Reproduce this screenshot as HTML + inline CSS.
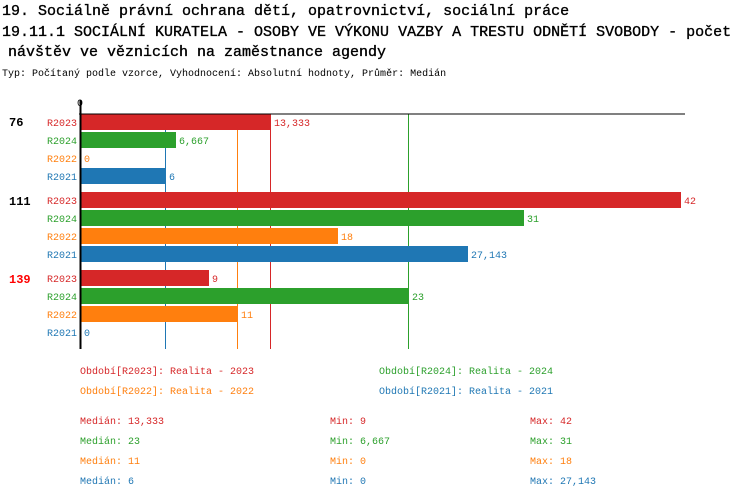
<!DOCTYPE html><html><head><meta charset="utf-8"><style>body{margin:0;background:#fff}svg{display:block}text{font-family:"Liberation Mono","DejaVu Sans Mono",monospace}</style></head><body>
<svg width="750" height="498" xmlns="http://www.w3.org/2000/svg">
<g font-size="15" stroke="#000" stroke-width="0.35">
<text x="2" y="15">19. Sociálně právní ochrana dětí, opatrovnictví, sociální práce</text>
<text x="2" y="36">19.11.1 SOCIÁLNÍ KURATELA - OSOBY VE VÝKONU VAZBY A TRESTU ODNĚTÍ SVOBODY - počet</text>
<text x="8" y="56">návštěv ve věznicích na zaměstnance agendy</text>
</g>
<text x="2" y="76" font-size="10">Typ: Počítaný podle vzorce, Vyhodnocení: Absolutní hodnoty, Průměr: Medián</text>
<text x="80" y="106" font-size="10" text-anchor="middle">0</text>
<line x1="165.5" y1="114" x2="165.5" y2="349" stroke="#1f77b4"/>
<line x1="237.5" y1="114" x2="237.5" y2="349" stroke="#ff7f0e"/>
<line x1="270.5" y1="114" x2="270.5" y2="349" stroke="#d62728"/>
<line x1="408.5" y1="114" x2="408.5" y2="349" stroke="#2ca02c"/>
<g font-size="10">
<rect x="81" y="114" width="190" height="16" fill="#d62728"/><text x="274" y="126" fill="#d62728">13,333</text>
<rect x="81" y="132" width="95" height="16" fill="#2ca02c"/><text x="179" y="144" fill="#2ca02c">6,667</text>
<text x="84" y="162" fill="#ff7f0e">0</text>
<rect x="81" y="168" width="85" height="16" fill="#1f77b4"/><text x="169" y="180" fill="#1f77b4">6</text>
<rect x="81" y="192" width="600" height="16" fill="#d62728"/><text x="684" y="204" fill="#d62728">42</text>
<rect x="81" y="210" width="443" height="16" fill="#2ca02c"/><text x="527" y="222" fill="#2ca02c">31</text>
<rect x="81" y="228" width="257" height="16" fill="#ff7f0e"/><text x="341" y="240" fill="#ff7f0e">18</text>
<rect x="81" y="246" width="387" height="16" fill="#1f77b4"/><text x="471" y="258" fill="#1f77b4">27,143</text>
<rect x="81" y="270" width="128" height="16" fill="#d62728"/><text x="212" y="282" fill="#d62728">9</text>
<rect x="81" y="288" width="328" height="16" fill="#2ca02c"/><text x="412" y="300" fill="#2ca02c">23</text>
<rect x="81" y="306" width="157" height="16" fill="#ff7f0e"/><text x="241" y="318" fill="#ff7f0e">11</text>
<text x="84" y="336" fill="#1f77b4">0</text>
</g>
<line x1="79" y1="114" x2="685" y2="114" stroke="#000"/>
<line x1="80.5" y1="100" x2="80.5" y2="349" stroke="#000" stroke-width="2"/>
<g font-size="10" text-anchor="end">
<text x="77" y="126" fill="#d62728">R2023</text><text x="77" y="144" fill="#2ca02c">R2024</text><text x="77" y="162" fill="#ff7f0e">R2022</text><text x="77" y="180" fill="#1f77b4">R2021</text>
<text x="77" y="204" fill="#d62728">R2023</text><text x="77" y="222" fill="#2ca02c">R2024</text><text x="77" y="240" fill="#ff7f0e">R2022</text><text x="77" y="258" fill="#1f77b4">R2021</text>
<text x="77" y="282" fill="#d62728">R2023</text><text x="77" y="300" fill="#2ca02c">R2024</text><text x="77" y="318" fill="#ff7f0e">R2022</text><text x="77" y="336" fill="#1f77b4">R2021</text>
</g>
<g font-size="12" font-weight="bold">
<text x="9" y="126">76</text><text x="9" y="205">111</text><text x="9" y="283" fill="#f00">139</text>
</g>
<g font-size="10">
<text x="80" y="374" fill="#d62728">Období[R2023]: Realita - 2023</text>
<text x="379" y="374" fill="#2ca02c">Období[R2024]: Realita - 2024</text>
<text x="80" y="394" fill="#ff7f0e">Období[R2022]: Realita - 2022</text>
<text x="379" y="394" fill="#1f77b4">Období[R2021]: Realita - 2021</text>
<text x="80" y="424" fill="#d62728">Medián: 13,333</text><text x="330" y="424" fill="#d62728">Min: 9</text><text x="530" y="424" fill="#d62728">Max: 42</text>
<text x="80" y="444" fill="#2ca02c">Medián: 23</text><text x="330" y="444" fill="#2ca02c">Min: 6,667</text><text x="530" y="444" fill="#2ca02c">Max: 31</text>
<text x="80" y="464" fill="#ff7f0e">Medián: 11</text><text x="330" y="464" fill="#ff7f0e">Min: 0</text><text x="530" y="464" fill="#ff7f0e">Max: 18</text>
<text x="80" y="484" fill="#1f77b4">Medián: 6</text><text x="330" y="484" fill="#1f77b4">Min: 0</text><text x="530" y="484" fill="#1f77b4">Max: 27,143</text>
</g>
</svg></body></html>
